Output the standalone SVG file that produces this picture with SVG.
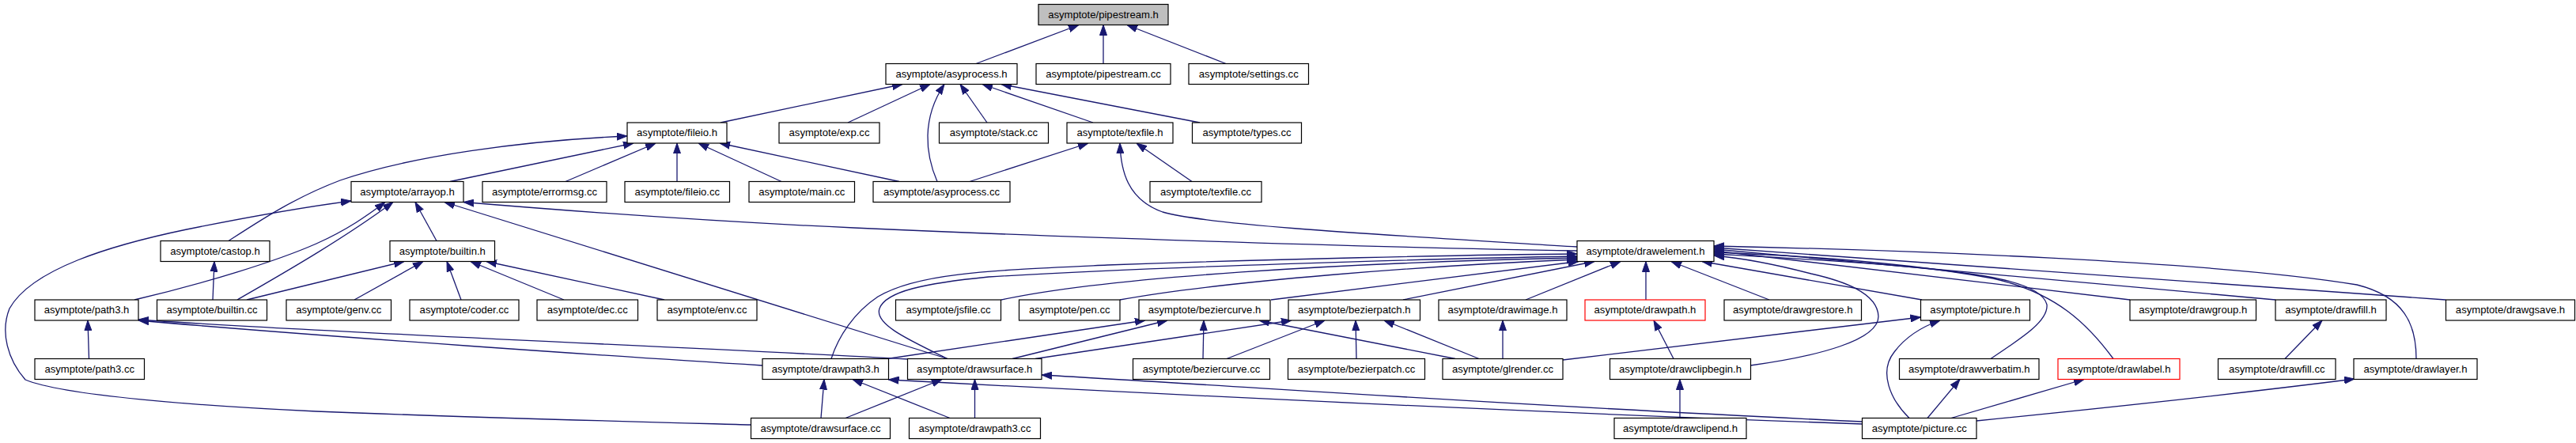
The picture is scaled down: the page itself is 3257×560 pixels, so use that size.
<svg xmlns="http://www.w3.org/2000/svg" width="3257" height="560" viewBox="0 0 3257 560">
<style>
.n rect{fill:#fff;stroke:#000;stroke-width:1.2}
.n.root rect{fill:#bfbfbf}
.n.red rect{stroke:#ff0000}
.n text{font-family:"Liberation Sans",Arial,Helvetica,sans-serif;font-size:13.1px;fill:#000;text-anchor:middle}
#edges path{fill:none;stroke:#191970;stroke-width:1.3;marker-end:url(#ah)}
</style>
<defs>
<marker id="ah" markerUnits="userSpaceOnUse" viewBox="0 0 13 10" refX="13" refY="5" markerWidth="13" markerHeight="10" orient="auto">
<path d="M0,0.5 L13,5 L0,9.5 Z" fill="#191970" stroke="#191970" stroke-width="1"/>
</marker>
</defs>
<rect width="3257" height="560" fill="#fff"/>
<g id="edges">
<path d="M1234,80.5 L1364,31.5"/>
<path d="M1395,80.5 L1395,31.5"/>
<path d="M1550,80.5 L1425,31.5"/>
<path d="M911,155 L1141,106.5"/>
<path d="M1072,155 L1176,106.5"/>
<path d="M1185,229.5 C1170,195 1165,150 1194,106.5"/>
<path d="M1248,155 L1214,106.5"/>
<path d="M1382,155 L1242,106.5"/>
<path d="M1517,155 L1266,106.5"/>
<path d="M289,304.5 C330,278 372,250 430,228 C520,197 660,178 793,172"/>
<path d="M569,229.5 L801,181"/>
<path d="M715,229.5 L829,181"/>
<path d="M856,229.5 L856,181"/>
<path d="M988,229.5 L883,181"/>
<path d="M1137,229.5 L910,181"/>
<path d="M1226,229.5 L1376,181"/>
<path d="M1507,229.5 L1437,181"/>
<path d="M1994,312 C1750,297 1530,285 1470,268 C1425,252 1417,215 1416,181"/>
<path d="M1994,317 C1700,312 1300,298 1080,288 C900,280 700,265 586,255.5"/>
<path d="M170,379 C260,358 350,330 400,308 C440,290 465,272 487,255.5"/>
<path d="M300,379 C350,350 430,305 497,255.5"/>
<path d="M552,304.5 L525,255.5"/>
<path d="M1198,453.5 L562,255.5"/>
<path d="M949.5,537 C800,533 600,528 400,520 C250,513 80,500 32,480 C10,455 0,420 12,390 C40,340 140,310 236,290 C320,273 390,261 444,254"/>
<path d="M269,379 L271,330.5"/>
<path d="M312,379 L511,330.5"/>
<path d="M448,379 L535,330.5"/>
<path d="M583,379 L565,330.5"/>
<path d="M713,379 L595,330.5"/>
<path d="M840,379 L615,330.5"/>
<path d="M112.5,453.5 L111,405"/>
<path d="M964,462 C800,452 400,425 175,405"/>
<path d="M1148,454 C900,440 400,420 175,404"/>
<path d="M1051,453.5 C1060,425 1080,395 1110,375 C1160,345 1250,342 1400,335 C1600,328 1850,322 1994,321"/>
<path d="M1198,453.5 C1150,430 1105,410 1112,390 C1120,368 1170,358 1250,350 C1450,338 1800,327 1994,324"/>
<path d="M1266,379 C1400,350 1700,332 1994,326"/>
<path d="M1416,379 C1550,355 1800,336 1994,328"/>
<path d="M1607,379 L1996,330.5"/>
<path d="M1774,379 L2016,330.5"/>
<path d="M1929,379 L2049,330.5"/>
<path d="M2081,379 L2081,330.5"/>
<path d="M2237,379 L2113,330.5"/>
<path d="M2430,379 L2152,330.5"/>
<path d="M2213,462 C2300,450 2375,430 2375,400 C2374,370 2330,355 2290,346 C2240,333 2200,326 2167,323"/>
<path d="M2517,453.5 C2560,425 2590,405 2588,385 C2580,355 2500,345 2400,336 C2300,328 2220,324 2167,321"/>
<path d="M2672,453.5 C2640,410 2600,370 2520,352 C2400,330 2250,322 2167,319"/>
<path d="M2693,379 L2167,317"/>
<path d="M2877,379 L2167,315"/>
<path d="M3092,379 L2167,313"/>
<path d="M3055,453.5 C3055,410 3040,375 2980,360 C2800,330 2400,316 2167,311"/>
<path d="M1122,453.5 L1448,405"/>
<path d="M1280,453.5 L1476,405"/>
<path d="M1521,453.5 L1522,405"/>
<path d="M1840,453.5 L1592,405"/>
<path d="M1309,453.5 L1633,405"/>
<path d="M1551,453.5 L1675,405"/>
<path d="M1715,453.5 L1714,405"/>
<path d="M1870,453.5 L1750,405"/>
<path d="M1900,453.5 L1900,405"/>
<path d="M1976,455 L2428.5,401"/>
<path d="M2116,453.5 L2091,405"/>
<path d="M2124,528.5 L2124,479.5"/>
<path d="M2355,536 C1900,520 1500,500 1123.5,480"/>
<path d="M2355,533 C1900,512 1600,490 1317,474"/>
<path d="M2414,528.5 C2390,505 2375,470 2395,445 C2410,425 2430,413 2453,405"/>
<path d="M2437,528.5 L2478,479.5"/>
<path d="M2467,528.5 L2635,479.5"/>
<path d="M2499,532 C2700,512 2850,495 2977,479"/>
<path d="M2889,453.5 L2936,405"/>
<path d="M1069,528.5 L1191,479.5"/>
<path d="M1038,528.5 L1042,479.5"/>
<path d="M1232.5,528.5 L1232.5,479.5"/>
<path d="M1201,528.5 L1078,479.5"/>
</g>
<g id="n_pipestream_h" class="n root"><rect x="1313" y="5.5" width="164" height="26"/><text x="1395" y="22.5">asymptote/pipestream.h</text></g>
<g id="n_asyprocess_h" class="n"><rect x="1120" y="80.5" width="166" height="26"/><text x="1203" y="97.5">asymptote/asyprocess.h</text></g>
<g id="n_pipestream_cc" class="n"><rect x="1310" y="80.5" width="170" height="26"/><text x="1395" y="97.5">asymptote/pipestream.cc</text></g>
<g id="n_settings_cc" class="n"><rect x="1503" y="80.5" width="151.5" height="26"/><text x="1578.75" y="97.5">asymptote/settings.cc</text></g>
<g id="n_fileio_h" class="n"><rect x="793" y="155" width="126" height="26"/><text x="856" y="172">asymptote/fileio.h</text></g>
<g id="n_exp_cc" class="n"><rect x="985" y="155" width="127" height="26"/><text x="1048.5" y="172">asymptote/exp.cc</text></g>
<g id="n_stack_cc" class="n"><rect x="1187.5" y="155" width="138" height="26"/><text x="1256.5" y="172">asymptote/stack.cc</text></g>
<g id="n_texfile_h" class="n"><rect x="1349" y="155" width="134" height="26"/><text x="1416" y="172">asymptote/texfile.h</text></g>
<g id="n_types_cc" class="n"><rect x="1507.5" y="155" width="138" height="26"/><text x="1576.5" y="172">asymptote/types.cc</text></g>
<g id="n_arrayop_h" class="n"><rect x="444" y="229.5" width="142" height="26"/><text x="515" y="246.5">asymptote/arrayop.h</text></g>
<g id="n_errormsg_cc" class="n"><rect x="610" y="229.5" width="157" height="26"/><text x="688.5" y="246.5">asymptote/errormsg.cc</text></g>
<g id="n_fileio_cc" class="n"><rect x="790" y="229.5" width="132.5" height="26"/><text x="856.25" y="246.5">asymptote/fileio.cc</text></g>
<g id="n_main_cc" class="n"><rect x="947" y="229.5" width="133.5" height="26"/><text x="1013.75" y="246.5">asymptote/main.cc</text></g>
<g id="n_asyprocess_cc" class="n"><rect x="1104" y="229.5" width="173" height="26"/><text x="1190.5" y="246.5">asymptote/asyprocess.cc</text></g>
<g id="n_texfile_cc" class="n"><rect x="1454" y="229.5" width="141" height="26"/><text x="1524.5" y="246.5">asymptote/texfile.cc</text></g>
<g id="n_castop_h" class="n"><rect x="203" y="304.5" width="138" height="26"/><text x="272" y="321.5">asymptote/castop.h</text></g>
<g id="n_builtin_h" class="n"><rect x="493" y="304.5" width="132.5" height="26"/><text x="559.25" y="321.5">asymptote/builtin.h</text></g>
<g id="n_drawelement_h" class="n"><rect x="1994" y="304.5" width="173" height="26"/><text x="2080.5" y="321.5">asymptote/drawelement.h</text></g>
<g id="n_path3_h" class="n"><rect x="44" y="379" width="131" height="26"/><text x="109.5" y="396">asymptote/path3.h</text></g>
<g id="n_builtin_cc" class="n"><rect x="198.5" y="379" width="139" height="26"/><text x="268" y="396">asymptote/builtin.cc</text></g>
<g id="n_genv_cc" class="n"><rect x="362" y="379" width="132.5" height="26"/><text x="428.25" y="396">asymptote/genv.cc</text></g>
<g id="n_coder_cc" class="n"><rect x="518" y="379" width="138" height="26"/><text x="587" y="396">asymptote/coder.cc</text></g>
<g id="n_dec_cc" class="n"><rect x="679" y="379" width="127.5" height="26"/><text x="742.75" y="396">asymptote/dec.cc</text></g>
<g id="n_env_cc" class="n"><rect x="831" y="379" width="126" height="26"/><text x="894" y="396">asymptote/env.cc</text></g>
<g id="n_jsfile_cc" class="n"><rect x="1132.5" y="379" width="133" height="26"/><text x="1199" y="396">asymptote/jsfile.cc</text></g>
<g id="n_pen_cc" class="n"><rect x="1288.5" y="379" width="127.5" height="26"/><text x="1352.25" y="396">asymptote/pen.cc</text></g>
<g id="n_beziercurve_h" class="n"><rect x="1440" y="379" width="166" height="26"/><text x="1523" y="396">asymptote/beziercurve.h</text></g>
<g id="n_bezierpatch_h" class="n"><rect x="1629" y="379" width="166.5" height="26"/><text x="1712.25" y="396">asymptote/bezierpatch.h</text></g>
<g id="n_drawimage_h" class="n"><rect x="1819" y="379" width="162" height="26"/><text x="1900" y="396">asymptote/drawimage.h</text></g>
<g id="n_drawpath_h" class="n red"><rect x="2004" y="379" width="152" height="26"/><text x="2080" y="396">asymptote/drawpath.h</text></g>
<g id="n_drawgrestore_h" class="n"><rect x="2180" y="379" width="173.5" height="26"/><text x="2266.75" y="396">asymptote/drawgrestore.h</text></g>
<g id="n_picture_h" class="n"><rect x="2428.5" y="379" width="138" height="26"/><text x="2497.5" y="396">asymptote/picture.h</text></g>
<g id="n_drawgroup_h" class="n"><rect x="2693" y="379" width="159.5" height="26"/><text x="2772.75" y="396">asymptote/drawgroup.h</text></g>
<g id="n_drawfill_h" class="n"><rect x="2877" y="379" width="140" height="26"/><text x="2947" y="396">asymptote/drawfill.h</text></g>
<g id="n_drawgsave_h" class="n"><rect x="3092.5" y="379" width="163" height="26"/><text x="3174" y="396">asymptote/drawgsave.h</text></g>
<g id="n_path3_cc" class="n"><rect x="44" y="453.5" width="138.5" height="26"/><text x="113.25" y="470.5">asymptote/path3.cc</text></g>
<g id="n_drawpath3_h" class="n"><rect x="964" y="453.5" width="159.5" height="26"/><text x="1043.75" y="470.5">asymptote/drawpath3.h</text></g>
<g id="n_drawsurface_h" class="n"><rect x="1147.5" y="453.5" width="169.5" height="26"/><text x="1232.25" y="470.5">asymptote/drawsurface.h</text></g>
<g id="n_beziercurve_cc" class="n"><rect x="1432.5" y="453.5" width="173" height="26"/><text x="1519" y="470.5">asymptote/beziercurve.cc</text></g>
<g id="n_bezierpatch_cc" class="n"><rect x="1628.5" y="453.5" width="173" height="26"/><text x="1715" y="470.5">asymptote/bezierpatch.cc</text></g>
<g id="n_glrender_cc" class="n"><rect x="1824" y="453.5" width="152" height="26"/><text x="1900" y="470.5">asymptote/glrender.cc</text></g>
<g id="n_drawclipbegin_h" class="n"><rect x="2035.5" y="453.5" width="178" height="26"/><text x="2124.5" y="470.5">asymptote/drawclipbegin.h</text></g>
<g id="n_drawverbatim_h" class="n"><rect x="2401.5" y="453.5" width="176.5" height="26"/><text x="2489.75" y="470.5">asymptote/drawverbatim.h</text></g>
<g id="n_drawlabel_h" class="n red"><rect x="2602" y="453.5" width="154" height="26"/><text x="2679" y="470.5">asymptote/drawlabel.h</text></g>
<g id="n_drawfill_cc" class="n"><rect x="2804.5" y="453.5" width="148.5" height="26"/><text x="2878.75" y="470.5">asymptote/drawfill.cc</text></g>
<g id="n_drawlayer_h" class="n"><rect x="2976" y="453.5" width="156" height="26"/><text x="3054" y="470.5">asymptote/drawlayer.h</text></g>
<g id="n_drawsurface_cc" class="n"><rect x="949.5" y="528.5" width="176" height="26"/><text x="1037.5" y="545.5">asymptote/drawsurface.cc</text></g>
<g id="n_drawpath3_cc" class="n"><rect x="1149.5" y="528.5" width="166" height="26"/><text x="1232.5" y="545.5">asymptote/drawpath3.cc</text></g>
<g id="n_drawclipend_h" class="n"><rect x="2041" y="528.5" width="167" height="26"/><text x="2124.5" y="545.5">asymptote/drawclipend.h</text></g>
<g id="n_picture_cc" class="n"><rect x="2354.5" y="528.5" width="144.5" height="26"/><text x="2426.75" y="545.5">asymptote/picture.cc</text></g>
</svg>
